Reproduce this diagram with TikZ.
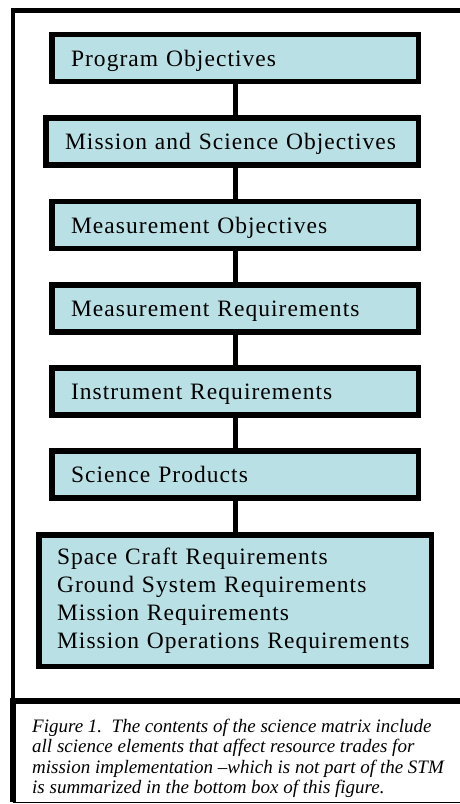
\documentclass[tikz,border=0pt]{standalone}
\usepackage{fontspec}
\setmainfont{Liberation Serif}
\newfontfamily\boxfont[LetterSpace=4.5]{Liberation Serif}
\definecolor{boxfill}{RGB}{185,224,228}
\tikzset{
	stmbox/.style={draw, line width=5.5pt, fill=boxfill, outer sep=0pt,
		inner xsep=19.25pt, inner ysep=0pt, minimum height=47pt,
		text height=16pt, text depth=0pt, align=left, anchor=west,
		font=\boxfont\fontsize{23.5}{28}\selectfont},
	link/.style={line width=5pt},
}
\begin{document}
\begin{tikzpicture}[x=1pt,y=-1pt]
		\useasboundingbox (0,0) rectangle (460,804);
		%outer frame
		\draw[line width=4.5pt] (470,10.5) -- (13,10.5) -- (13,701);
		%boxes
		\node[stmbox, text width=328pt] (prog) at (51.75,58) {Program Objectives};
		\node[stmbox, text width=334pt] (mission) at (45.75,141.5) {Mission and Science Objectives};
		\node[stmbox, text width=328pt] (measobj) at (51.75,225) {Measurement Objectives};
		\node[stmbox, text width=328pt] (measreq) at (51.75,308.5) {Measurement Requirements};
		\node[stmbox, text width=328pt] (instr) at (51.75,391.5) {Instrument Requirements};
		\node[stmbox, text width=328pt] (products) at (51.75,474.5) {Science Products};
		\node[stmbox, text width=356pt, inner xsep=18.25pt, minimum height=131.5pt,
			text height=, text depth=] (systems) at (38.75,600.5)
			{Space Craft Requirements\\Ground System Requirements\\Mission Requirements\\Mission Operations Requirements};
		%links
		\draw[link] (prog.south) -- (prog.south |- mission.north);
		\draw[link] (prog.south |- mission.south) -- (prog.south |- measobj.north);
		\draw[link] (measobj.south) -- (measreq.north);
		\draw[link] (measreq.south) -- (instr.north);
		\draw[link] (instr.south) -- (products.north);
		\draw[link] (products.south) -- (products.south |- systems.north);
		%caption box
		\draw[line width=6pt] (12.5,802) -- (12.5,701) -- (470,701);
		\draw[line width=1pt] (12.5,802.5) -- (470,802.5);
		\node[anchor=north west, inner sep=0pt, align=left,
			font=\itshape\fontsize{19}{20.5}\selectfont] (caption) at (32,718.7)
			{Figure 1.\ \ The contents of the science matrix include\\
			all science elements that affect resource trades for\\
			mission implementation --which is not part of the STM\\
			is summarized in the bottom box of this figure.};
	\end{tikzpicture}
\end{document}
